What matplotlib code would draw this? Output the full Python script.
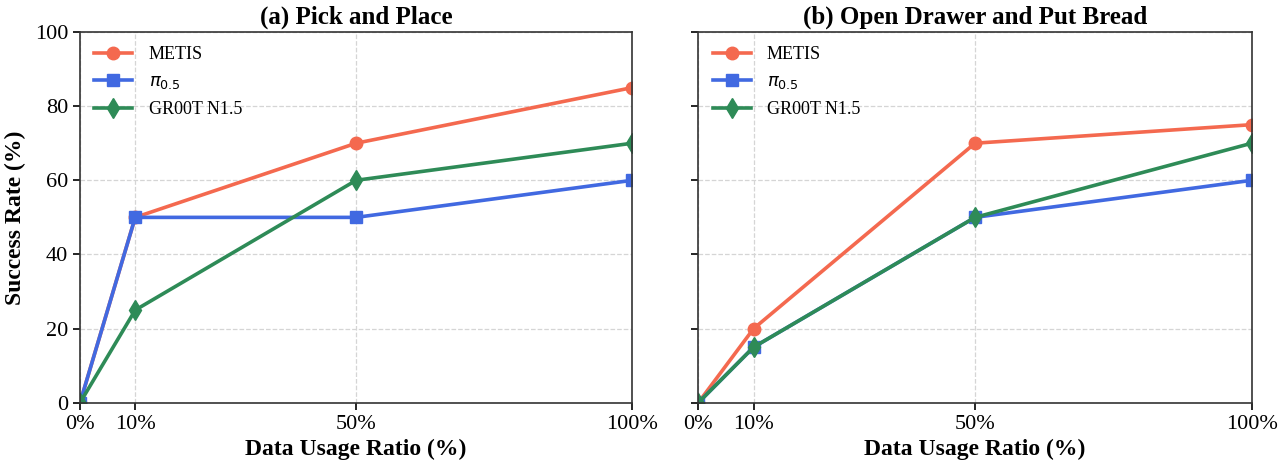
import matplotlib.pyplot as plt

plt.rcParams['font.family'] = ['Liberation Serif', 'DejaVu Serif']
plt.rcParams['mathtext.fontset'] = 'dejavusans'

x_vals = [0, 10, 50, 100]
x_labels = ['0%', '10%', '50%', '100%']

titles = ['(a) Pick and Place', '(b) Open Drawer and Put Bread']
series_names = ['METIS', r'$\pi_{0.5}$', 'GR00T N1.5']

metis = [[0, 50, 70, 85], [0, 20, 70, 75]]
pi05 = [[0, 50, 50, 60], [0, 15, 50, 60]]
gr00t = [[0, 25, 60, 70], [0, 15, 50, 70]]

colors = ['#f4694f', '#4169e1', '#2e8b57']
markers = ['o', 's', 'd']

fig = plt.figure(figsize=(12.8, 4.7), dpi=100)
ax1 = fig.add_axes([0.0625, 0.143, 0.4315, 0.789])
ax2 = fig.add_axes([0.5455, 0.143, 0.4325, 0.789], sharey=ax1)

for i, ax in enumerate([ax1, ax2]):
    for vals, name, c, m in zip([metis[i], pi05[i], gr00t[i]], series_names, colors, markers):
        ms = 10 if m == 'd' else 9
        ax.plot(x_vals, vals, color=c, marker=m, markersize=ms, linewidth=2.6, label=name)
    ax.set_xlim(0, 100)
    ax.set_ylim(0, 100)
    ax.set_xticks(x_vals)
    ax.set_xticklabels(x_labels)
    ax.set_yticks(range(0, 101, 20))
    ax.tick_params(labelsize=16, length=5, width=1.2)
    ax.grid(True, linestyle='--', color='#d5d5d5', linewidth=0.9)
    ax.set_title(titles[i], fontsize=18, fontweight='bold', pad=6)
    ax.set_xlabel('Data Usage Ratio (%)', fontsize=17, fontweight='bold', labelpad=4)
    ax.legend(loc='upper left', frameon=False, fontsize=13, handlelength=2.1,
              handletextpad=0.9, labelspacing=0.55, borderaxespad=0.4)
    for s in ax.spines.values():
        s.set_linewidth(1.2)
        s.set_color('#333333')

ax1.set_ylabel('Success Rate (%)', fontsize=17, fontweight='bold', labelpad=6)
plt.setp(ax2.get_yticklabels(), visible=False)

fig.savefig('out.png', dpi=100)
